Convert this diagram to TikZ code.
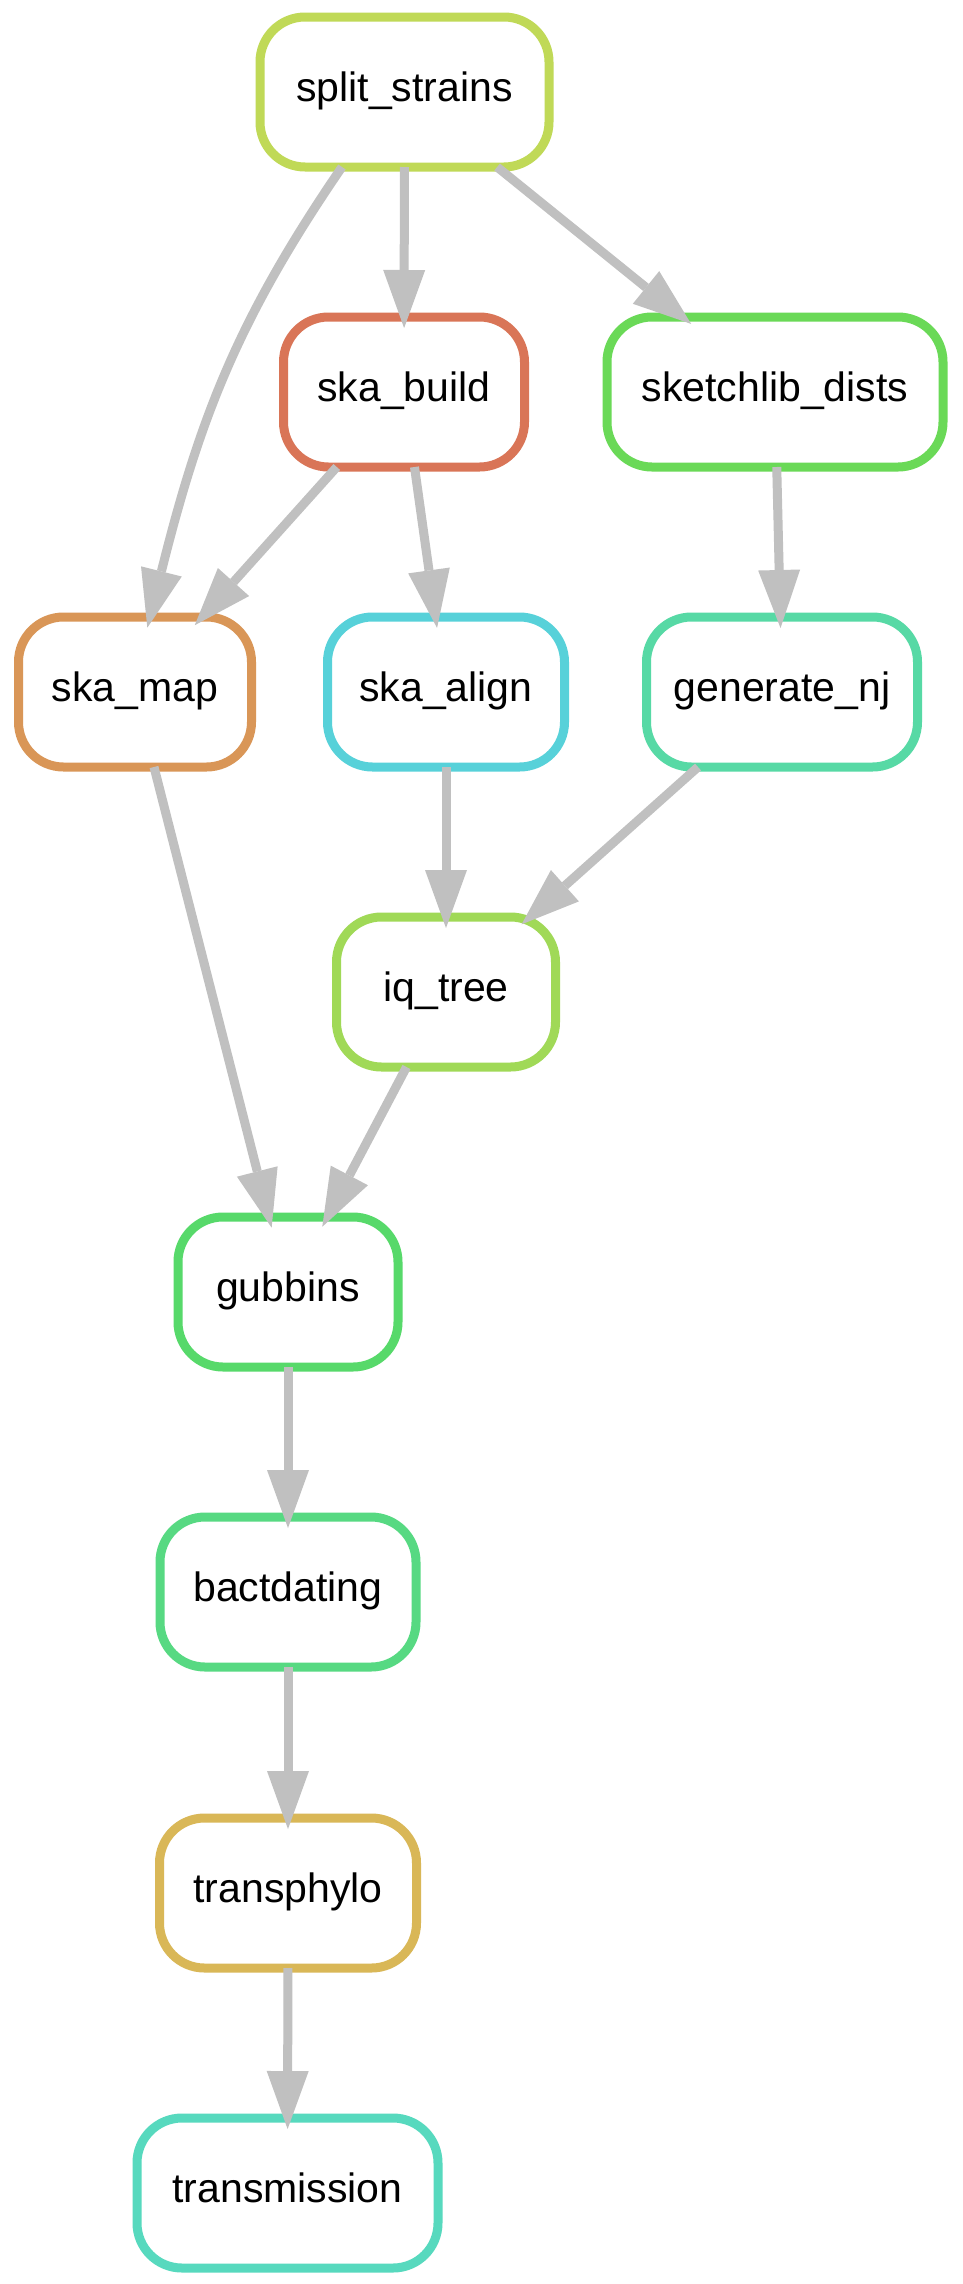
\documentclass[tikz,border=0pt]{standalone}
\usepackage{fontspec}
\setmainfont{Liberation Sans}
\usetikzlibrary{arrows.meta}
\definecolor{cSplit}{HTML}{C0D957}
\definecolor{cBuild}{HTML}{D97557}
\definecolor{cSketch}{HTML}{6AD957}
\definecolor{cMap}{HTML}{D99657}
\definecolor{cAlign}{HTML}{57D1D9}
\definecolor{cNJ}{HTML}{57D9A5}
\definecolor{cIQ}{HTML}{A0D957}
\definecolor{cGub}{HTML}{57D96A}
\definecolor{cBact}{HTML}{57D982}
\definecolor{cTP}{HTML}{D9B757}
\definecolor{cTrans}{HTML}{57D9BE}
\definecolor{edgegray}{HTML}{C0C0C0}
\begin{document}
\begin{tikzpicture}[x=1pt,y=-1pt,
  rule/.style={draw=#1, line width=9pt, rounded corners=45pt, minimum height=150pt,
    inner sep=0pt, outer sep=0pt, font=\fontsize{41}{49}\selectfont,
    text height=28pt, text depth=10pt},
  edge/.style={draw=edgegray, line width=9pt,
    -{Triangle[length=58pt,width=42pt,line width=0pt]}, shorten >=-11pt}]
\fill[white] (0,0) rectangle (963,2284);
\useasboundingbox (0,0) rectangle (963,2284);

\node[rule=cSplit, minimum width=289pt] (split_strains) at (404.5,92) {split\_strains};
\node[rule=cBuild, minimum width=241pt] (ska_build) at (404,392) {ska\_build};
\node[rule=cSketch, minimum width=336pt] (sketchlib_dists) at (775,392) {sketchlib\_dists};
\node[rule=cMap, minimum width=233pt] (ska_map) at (135,692) {ska\_map};
\node[rule=cAlign, minimum width=237pt] (ska_align) at (446,692) {ska\_align};
\node[rule=cNJ, minimum width=271pt] (generate_nj) at (782,692) {generate\_nj};
\node[rule=cIQ, minimum width=219pt] (iq_tree) at (446,992) {iq\_tree};
\node[rule=cGub, minimum width=220pt] (gubbins) at (288,1292) {gubbins};
\node[rule=cBact, minimum width=256pt] (bactdating) at (288,1592) {bactdating};
\node[rule=cTP, minimum width=257pt] (transphylo) at (288,1893) {transphylo};
\node[rule=cTrans, minimum width=301pt] (transmission) at (287.5,2193) {transmission};

\coordinate (c1) at (238.5,318);
\coordinate (c2) at (200,417);
\draw[edge] ([xshift=-62.5pt]split_strains.south) .. controls (c1) and (c2) .. ([xshift=15pt]ska_map.north);
\draw[edge] (split_strains) -- (ska_build);
\draw[edge] (split_strains) -- (sketchlib_dists);
\draw[edge] (ska_build) -- (ska_map);
\draw[edge] (ska_build) -- (ska_align);
\draw[edge] (sketchlib_dists) -- (generate_nj);
\draw[edge] (ska_map) -- (gubbins);
\draw[edge] (ska_align) -- (iq_tree);
\draw[edge] (generate_nj) -- (iq_tree);
\draw[edge] (iq_tree) -- (gubbins);
\draw[edge] (gubbins) -- (bactdating);
\draw[edge] (bactdating) -- (transphylo);
\draw[edge] (transphylo) -- (transmission);
\end{tikzpicture}
\end{document}
